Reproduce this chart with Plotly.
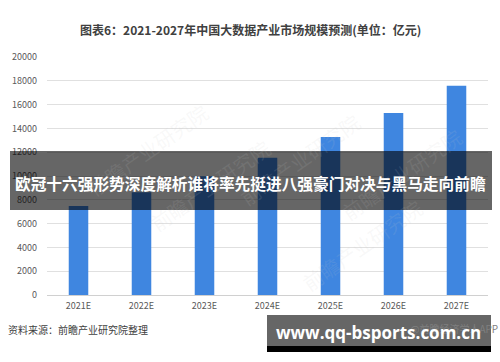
import plotly.graph_objects as go

years = ["2021E", "2022E", "2023E", "2024E", "2025E", "2026E", "2027E"]
market_size = [7480, 8640, 9980, 11540, 13280, 15300, 17590]
y_ticks = [0, 2000, 4000, 6000, 8000, 10000, 12000, 14000, 16000, 18000, 20000]

title_text = "图表6：2021-2027年中国大数据产业市场规模预测(单位：亿元)"
source_text = "资料来源：前瞻产业研究院整理"
credit_text = "@前瞻经济学人APP"
banner_text = "欧冠十六强形势深度解析谁将率先挺进八强豪门对决与黑马走向前瞻"
site_text = "www.qq-bsports.com.cn"
watermark_text = "前瞻产业研究院"

W, H = 500, 362
L, R, T, B = 47, 12, 57, 67
PW, PH = W - L - R, H - T - B


def px(x):
    return (x - L) / PW


def py(y):
    return (H - B - y) / PH


CJK = "Noto Sans CJK SC"

fig = go.Figure(
    go.Bar(
        x=years,
        y=market_size,
        marker=dict(color="#3f86e0", line=dict(width=0)),
        hoverinfo="skip",
    )
)

fig.update_layout(
    width=W,
    height=H,
    margin=dict(l=L, r=R, t=T, b=B),
    paper_bgcolor="white",
    plot_bgcolor="white",
    bargap=0.69,
    showlegend=False,
    font=dict(family=CJK, color="#595959", size=9),
)
fig.update_xaxes(
    showgrid=False,
    showline=False,
    ticks="",
    tickfont=dict(size=9, color="#595959", family=CJK),
    ticklabelstandoff=4,
)
fig.update_yaxes(
    range=[0, 20000],
    tickvals=y_ticks,
    ticktext=[str(v) for v in y_ticks],
    showgrid=True,
    gridcolor="#e0e0e0",
    gridwidth=1,
    zeroline=True,
    zerolinecolor="#d0d0d0",
    zerolinewidth=1,
    showline=False,
    ticks="",
    tickfont=dict(size=9, color="#595959", family=CJK),
    ticklabelstandoff=9,
)

annotations = []
# faint watermarks
for (wx, wy) in [(80, 95), (300, 105), (470, 120), (210, 240), (430, 300)]:
    annotations.append(dict(
        x=px(wx), y=py(wy), xref="paper", yref="paper", text=watermark_text,
        showarrow=False, textangle=-35,
        font=dict(size=20, color="rgba(200,200,200,0.12)", family=CJK),
    ))

annotations += [
    dict(x=px(250), y=py(30), xref="paper", yref="paper", text="<b>" + title_text + "</b>",
         showarrow=False, xanchor="center", yanchor="middle",
         font=dict(size=12, color="#404040", family=CJK)),
    dict(x=px(6), y=py(329), xref="paper", yref="paper", text=source_text,
         showarrow=False, xanchor="left", yanchor="middle",
         font=dict(size=10, color="#404040", family=CJK)),
    dict(x=px(500), y=py(328), xref="paper", yref="paper", text=credit_text,
         showarrow=False, xanchor="right", yanchor="middle",
         font=dict(size=10, color="#7f7f7f", family=CJK)),
]

shapes = [
    # banner
    dict(type="rect", xref="paper", yref="paper", x0=px(10), x1=px(492), y0=py(210), y1=py(151),
         fillcolor="rgba(0,0,0,0.6)", line=dict(width=0), layer="above"),
    # site box
    dict(type="rect", xref="paper", yref="paper", x0=px(267), x1=px(491), y0=py(346), y1=py(315),
         fillcolor="rgba(0,0,0,0.6)", line=dict(width=0), layer="above"),
    dict(type="rect", xref="paper", yref="paper", x0=px(267), x1=px(491), y0=py(352), y1=py(346),
         fillcolor="black", line=dict(width=0), layer="above"),
]

annotations += [
    dict(x=px(250), y=py(183), xref="paper", yref="paper", text="<b>" + banner_text + "</b>",
         showarrow=False, xanchor="center", yanchor="middle",
         font=dict(size=15.7, color="white", family=CJK)),
    dict(x=px(378), y=py(332), xref="paper", yref="paper", text="<b>" + site_text + "</b>",
         showarrow=False, xanchor="center", yanchor="middle",
         font=dict(size=17, color="white", family="Open Sans")),
]

fig.update_layout(shapes=shapes, annotations=annotations)
fig.write_html("out.html")
